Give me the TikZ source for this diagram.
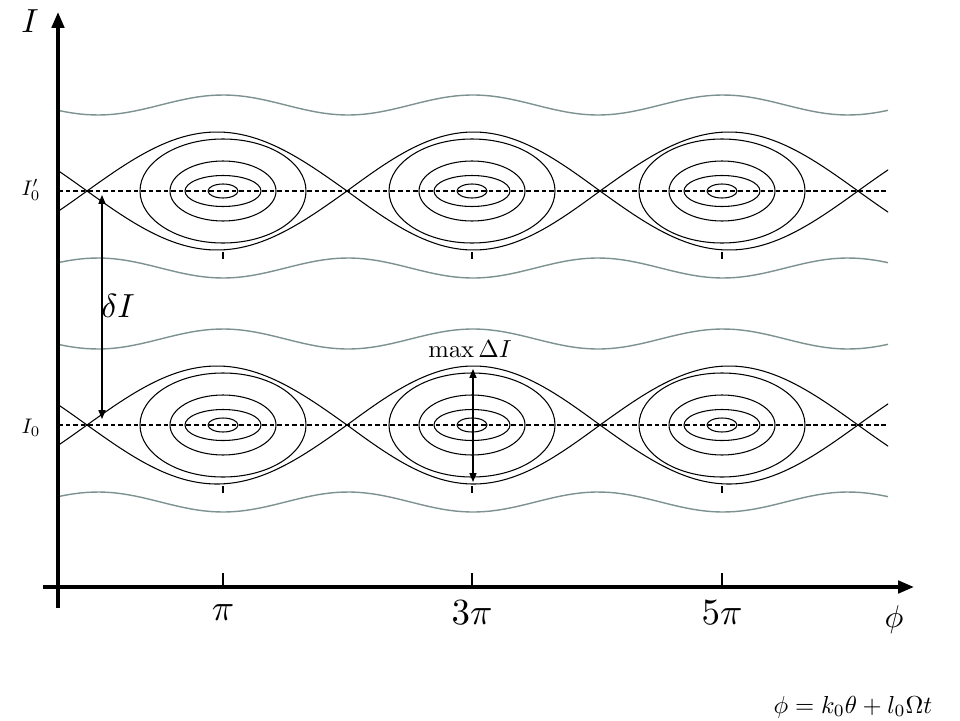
\documentclass[tikz,border=0pt]{standalone}
\usetikzlibrary{arrows.meta}
\definecolor{passgray}{RGB}{125,145,145}
\tikzset{
  orbit/.style={line width=0.6pt},
  passing/.style={line width=0.8pt, passgray},
  axis/.style={line width=2pt, -{Triangle[length=9pt, width=7pt]}},
  level/.style={line width=0.6pt, dash pattern=on 2.6pt off 1.7pt},
  gap/.style={line width=0.6pt, {Triangle[length=5pt, width=4pt]}-{Triangle[length=5pt, width=4pt]}},
  ticklbl/.style={scale=2.1}
}
\def\halfh{59}
\def\period{250}

\begin{document}
\begin{tikzpicture}[x=0.02cm, y=-0.02cm]
  \useasboundingbox (0,0) rectangle (960,720);

  % passing orbits
  \foreach \yc/\s in {105/-1, 268/1, 339/-1, 502/1}
  \draw[passing] plot[domain=58:888, samples=120] (\x, {\yc+\s*10*cos(360/\period*(\x-223))});

  % separatrices
  \begin{scope}
    \clip (58,0) rectangle (888,720);
    \foreach \yc in {191,425}
    \foreach \xa/\xb in {-171/87, 87/347, 347/600, 600/858, 858/1116}{
        \draw[orbit] plot[domain=\xa:\xb, samples=50] (\x, {\yc-\halfh*sin(180/(\xb-(\xa))*(\x-(\xa)))});
        \draw[orbit] plot[domain=\xa:\xb, samples=50] (\x, {\yc+\halfh*sin(180/(\xb-(\xa))*(\x-(\xa)))});
      }
  \end{scope}

  % islands
  \foreach \yc/\row in {191/a, 425/b}
  \foreach \xc [count=\i] in {223,472,722}{
      \coordinate (c\row\i) at (\xc,\yc);
      \draw[orbit] (c\row\i) ellipse (83 and 52);
      \draw[orbit] (c\row\i) ellipse (53 and 30);
      \draw[orbit] (c\row\i) ellipse (38 and 15.5);
      \draw[orbit] (c\row\i) ellipse (15 and 7);
      \draw[orbit] (\xc,\yc+61) -- (\xc,\yc+68);
    }

  \foreach \yc/\row in {191/a, 425/b}{
      \coordinate (l\row) at (58,\yc);
      \coordinate (r\row) at (888,\yc);
      \draw[level] (l\row) -- (r\row);
    }

  % axes
  \coordinate (yfoot) at (58,608);
  \coordinate (ytip) at (58,12);
  \coordinate (xfoot) at (43,587);
  \coordinate (xtip) at (914,587);
  \draw[axis] (yfoot) -- (ytip);
  \draw[axis] (xfoot) -- (xtip);

  \foreach \xc/\lab [count=\i] in {223/\pi, 472/3\pi, 722/5\pi}{
      \coordinate (t\i) at (\xc,587);
      \draw[orbit] (t\i) -- ++(0,-14);
      \node[ticklbl] (p\i) at (\xc,613) {$\lab$};
    }

  % widths
  \coordinate (dtop) at (102,195);
  \coordinate (dbot) at (102,419);
  \draw[gap] (dtop) -- (dbot);
  \coordinate (mtop) at (473,369);
  \coordinate (mbot) at (473,482);
  \draw[gap] (mtop) -- (mbot);

  \node[scale=1.9] (ilab) at (30,21) {$I$};
  \node[scale=1.2] (i0p) at (31,190) {$I'_0$};
  \node[scale=1.2] (i0) at (31,428) {$I_0$};
  \node[scale=1.9] (dI) at (118,306) {$\delta I$};
  \node[scale=1.4] (maxdI) at (470,349) {$\max\Delta I$};
  \node[scale=1.8] (phi) at (894,620) {$\phi$};
  \node[scale=1.4] (phidef) at (853,707) {$\phi = k_0\theta + l_0\Omega t$};
\end{tikzpicture}
\end{document}
